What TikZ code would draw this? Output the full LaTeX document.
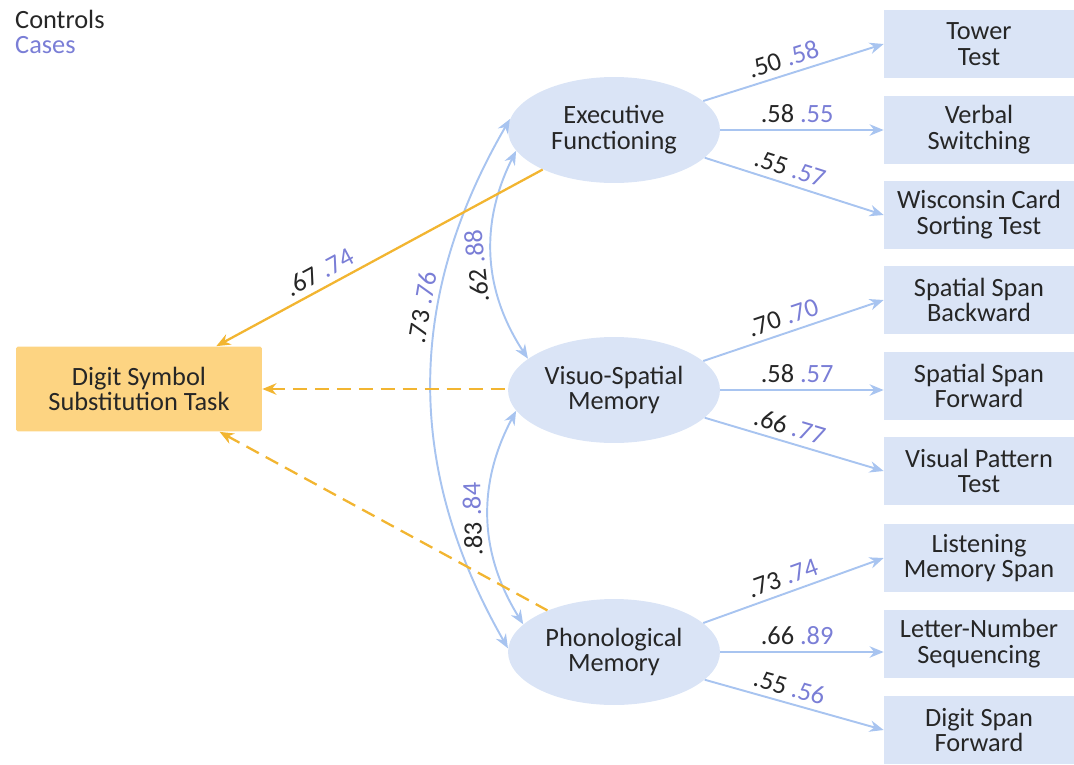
\documentclass[tikz,border=0pt]{standalone}
\usepackage{fontspec}
\setmainfont{Carlito}
\usetikzlibrary{shapes,arrows.meta}
\definecolor{ctrl}{HTML}{262626}
\definecolor{cases}{HTML}{7A7ED6}
\definecolor{lineblue}{HTML}{A8C4F0}
\definecolor{fillblue}{HTML}{DAE4F6}
\definecolor{lineorange}{HTML}{F2B531}
\definecolor{fillorange}{HTML}{FDD482}
\newcommand{\est}[2]{{\color{ctrl}#1} {\color{cases}#2}}

\begin{document}
\begin{tikzpicture}[x=0.02cm,y=-0.02cm,font=\fontsize{15pt}{14.7pt}\selectfont]
\tikzset{factor/.style = {shape=ellipse,fill=fillblue,minimum width=4.24cm,minimum height=2.12cm,inner sep=0pt,align=center,text=ctrl}}
\tikzset{test/.style = {shape=rectangle,fill=fillblue,minimum width=3.8cm,minimum height=1.36cm,inner sep=0pt,align=center,text=ctrl}}
\tikzset{outcome/.style = {shape=rectangle,fill=fillorange,rounded corners=1pt,minimum width=4.92cm,minimum height=1.7cm,inner sep=0pt,align=center,text=ctrl}}
\tikzset{load/.style = {->,>={Stealth[length=8pt,width=6.5pt]},draw=lineblue,line width=1.1pt}}
\tikzset{cov/.style = {load,<->}}
\tikzset{pred/.style = {<-,>={Stealth[length=8pt,width=6.5pt]},draw=lineorange,line width=1.3pt}}
\tikzset{weak/.style = {pred,dash pattern=on 8pt off 4.5pt}}

\useasboundingbox (0,0) rectangle (1074,764);

\node[anchor=west,text=ctrl] (lc) at (9,19) {Controls};
\node[anchor=west,text=cases] (lk) at (9,45) {Cases};

\node[outcome] (dst) at (139,389) {Digit Symbol\\Substitution Task};

\node[factor] (exec) at (614,130) {Executive\\Functioning};
\node[factor] (visuo) at (614,390) {Visuo-Spatial\\Memory};
\node[factor] (phon) at (614,652) {Phonological\\Memory};

\node[test] (t1) at (979,44) {Tower\\Test};
\node[test] (t2) at (979,130) {Verbal\\Switching};
\node[test] (t3) at (979,215) {Wisconsin Card\\Sorting Test};
\node[test] (t4) at (979,300) {Spatial Span\\Backward};
\node[test] (t5) at (979,386) {Spatial Span\\Forward};
\node[test] (t6) at (979,471) {Visual Pattern\\Test};
\node[test] (t7) at (979,558) {Listening\\Memory Span};
\node[test] (t8) at (979,644) {Letter-Number\\Sequencing};
\node[test] (t9) at (979,730) {Digit Span\\Forward};

%loadings
\draw[load] (exec.18) -- (t1.west) node[pos=.47,sloped,above] {\est{.50}{.58}};
\draw[load] (exec.east) -- (exec.east -| t2.west) node[pos=.47,above] {\est{.58}{.55}};
\draw[load] (exec.-17) -- (t3.west) node[pos=.45,sloped,above] {\est{.55}{.57}};

\draw[load] (visuo.18) -- (t4.west) node[pos=.47,sloped,above] {\est{.70}{.70}};
\draw[load] (visuo.east) -- (visuo.east -| t5.west) node[pos=.47,above] {\est{.58}{.57}};
\draw[load] (visuo.-17) -- (t6.west) node[pos=.45,sloped,above] {\est{.66}{.77}};

\draw[load] (phon.18) -- (t7.west) node[pos=.47,sloped,above] {\est{.73}{.74}};
\draw[load] (phon.east) -- (phon.east -| t8.west) node[pos=.47,above] {\est{.66}{.89}};
\draw[load] (phon.-17) -- (t9.west) node[pos=.45,sloped,above] {\est{.55}{.56}};

%covariances
\draw[cov] (visuo.160) to[bend left=30] node[pos=.46,sloped,allow upside down,above] {\est{.62}{.88}} (exec.192);
\draw[cov] (phon.163) to[bend left=30] node[pos=.5,sloped,allow upside down,above] {\est{.83}{.84}} (visuo.192);
\draw[cov] (phon.178) to[bend left=30] node[pos=.64,sloped,allow upside down,above] {\est{.73}{.76}} (exec.174);

%paths to the task
\draw[pred] (dst.29.5) -- (exec.209) node[pos=.34,sloped,above] {\est{.67}{.74}};
\draw[weak] (dst.east) -- (dst.east -| visuo.west);
\draw[weak] (dst.332.6) -- (phon.148);

\end{tikzpicture}
\end{document}
